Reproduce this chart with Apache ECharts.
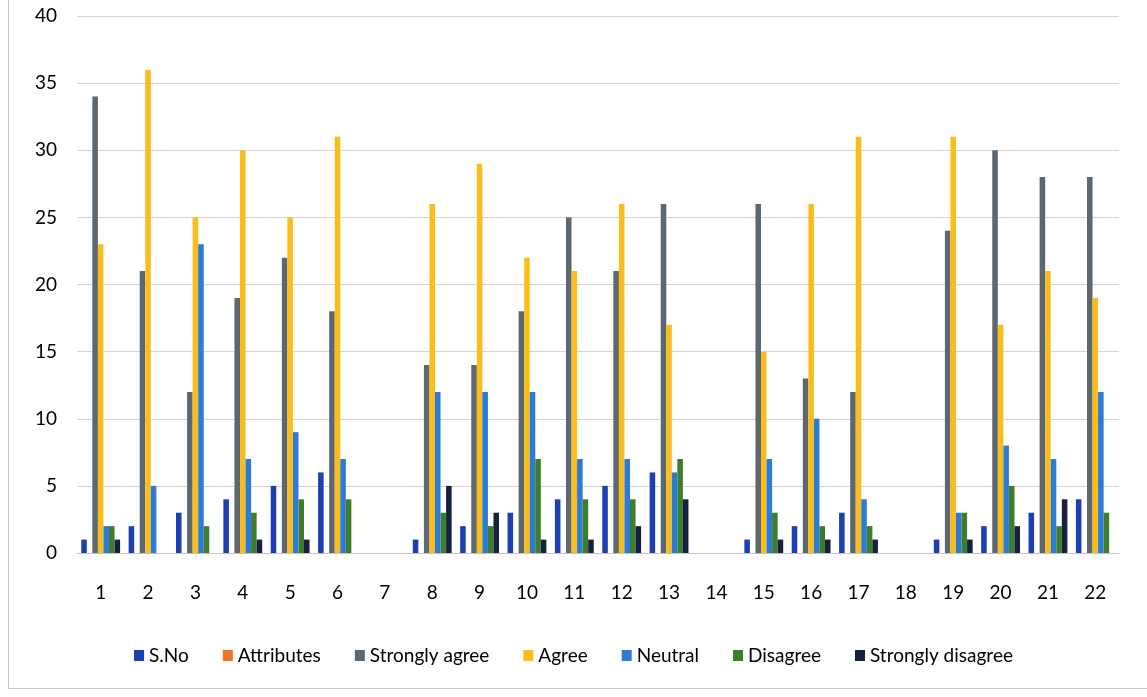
<!DOCTYPE html>
<html>
<head>
<meta charset="utf-8">
<script src="https://cdn.jsdelivr.net/npm/echarts@6/dist/echarts.min.js"></script>
<style>
html,body{margin:0;padding:0;background:#fff;}
#frame{position:absolute;left:8px;top:0;width:1160px;height:688px;border-left:1px solid #cfc8c8;border-bottom:1px solid #cfc8c8;}
#chart{position:absolute;left:0;top:0;width:1147px;height:697px;}
</style>
</head>
<body>
<div id="frame"></div>
<div id="chart"></div>
<script>
const categories = ['1','2','3','4','5','6','7','8','9','10','11','12','13','14','15','16','17','18','19','20','21','22'];
const seriesNames = ['S.No','Attributes','Strongly agree','Agree','Neutral','Disagree','Strongly disagree'];
const sNo            = [1,2,3,4,5,6,null,1,2,3,4,5,6,null,1,2,3,null,1,2,3,4];
const attributes     = [null,null,null,null,null,null,null,null,null,null,null,null,null,null,null,null,null,null,null,null,null,null];
const stronglyAgree  = [34,21,12,19,22,18,null,14,14,18,25,21,26,null,26,13,12,null,24,30,28,28];
const agree          = [23,36,25,30,25,31,null,26,29,22,21,26,17,null,15,26,31,null,31,17,21,19];
const neutral        = [2,5,23,7,9,7,null,12,12,12,7,7,6,null,7,10,4,null,3,8,7,12];
const disagree       = [2,0,2,3,4,4,null,3,2,7,4,4,7,null,3,2,2,null,3,5,2,3];
const stronglyDis    = [1,0,0,1,1,0,null,5,3,1,1,2,4,null,1,1,1,null,1,2,4,0];
const yTicks = [0,5,10,15,20,25,30,35,40];

const colors = ['#1c3fb4','#ef7426','#5d6770','#fbbd1c','#2b7bd8','#3e7d2c','#15213f'];
const dataList = [sNo, attributes, stronglyAgree, agree, neutral, disagree, stronglyDis];

const chart = echarts.init(document.getElementById('chart'));
chart.setOption({
  animation:false,
  color: colors,
  textStyle:{fontFamily:'Lato, "Open Sans", sans-serif'},
  grid:{left:77, right:28, top:16, bottom:144},
  legend:{
    bottom:27, left:'center',
    itemWidth:10, itemHeight:11, itemGap:34,
    icon:'rect',
    textStyle:{fontSize:19, color:'#000', fontFamily:'Lato, "Open Sans", sans-serif'},
    data: seriesNames
  },
  xAxis:{
    type:'category', data:categories,
    axisTick:{show:false},
    axisLine:{lineStyle:{color:'#c9c0c0'}},
    axisLabel:{fontSize:19, color:'#000', margin:30}
  },
  yAxis:{
    type:'value', min:yTicks[0], max:yTicks[yTicks.length-1], interval:5,
    axisLine:{show:false}, axisTick:{show:false},
    axisLabel:{fontSize:19, color:'#000', margin:20},
    splitLine:{lineStyle:{color:'#dcd2d2', width:1}}
  },
  series: seriesNames.map((n,i)=>({
    name:n, type:'bar', data:dataList[i],
    barGap:'0%', barCategoryGap:'18%'
  }))
});
</script>
</body>
</html>
